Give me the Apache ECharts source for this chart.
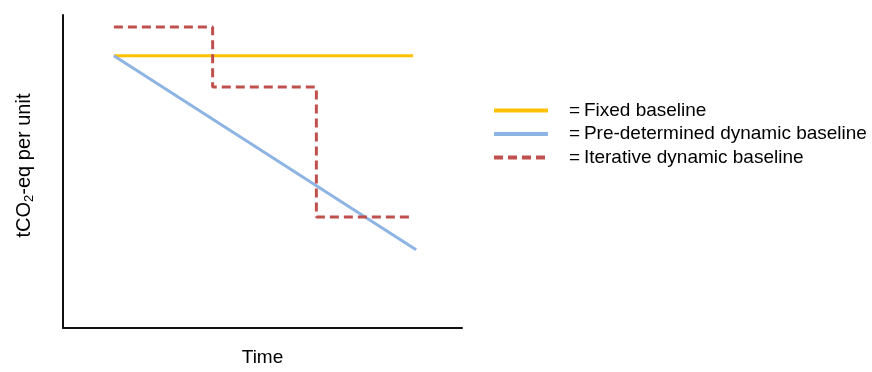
<!DOCTYPE html>
<html><head><meta charset="utf-8">
<script src="https://cdn.jsdelivr.net/npm/echarts@6/dist/echarts.min.js"></script>
<style>html,body{margin:0;padding:0;background:#fff}#c{width:872px;height:372px}</style>
</head><body><div id="c"></div>
<script>
const seriesNames = ['Fixed baseline', 'Pre-determined dynamic baseline', 'Iterative dynamic baseline'];
const fixedBaseline = [[0.51, 8.7], [3.51, 8.7]];
const predeterminedBaseline = [[0.51, 8.7], [3.54, 2.5]];
const iterativeBaseline = [[0.51, 9.62], [1.5, 9.62], [1.5, 7.7], [2.54, 7.7], [2.54, 3.55], [3.5, 3.55]];
const xName = 'Time';
const yName = 'tCO{sub|2}-eq per unit';

const chart = echarts.init(document.getElementById('c'));
const font = 'Liberation Sans, Arial, sans-serif';
chart.setOption({
  animation: false,
  backgroundColor: '#fff',
  textStyle: {fontFamily: font},
  grid: {left: 63, right: 410, top: 15, bottom: 34},
  xAxis: {
    type: 'value', min: 0, max: 4,
    name: xName, nameLocation: 'middle', nameGap: 20,
    nameTextStyle: {fontSize: 19, color: '#000', fontFamily: font},
    axisLine: {lineStyle: {color: '#111', width: 2}},
    axisTick: {show: false}, axisLabel: {show: false}, splitLine: {show: false}
  },
  yAxis: {
    type: 'value', min: 0, max: 10,
    name: yName, nameLocation: 'middle', nameGap: 27,
    nameTextStyle: {fontSize: 20, color: '#000', fontFamily: font, padding: [0, 0, 0, 12],
      rich: {sub: {fontSize: 13, verticalAlign: 'bottom', padding: [10, 0, 0, 0], fontFamily: font, color: '#000'}}},
    axisLine: {show: true, lineStyle: {color: '#111', width: 2}},
    axisTick: {show: false}, axisLabel: {show: false}, splitLine: {show: false}
  },
  legend: {
    orient: 'vertical', left: 487, top: 96,
    itemWidth: 54, itemHeight: 10, itemGap: 4.5,
    itemStyle: {opacity: 0, borderWidth: 0},
    lineStyle: {width: 4},
    formatter: n => '=\u2009' + n,
    textStyle: {fontSize: 19, color: '#000', fontFamily: font, padding: [0, 0, 0, 16]},
    data: seriesNames
  },
  series: [
    {name: seriesNames[0], type: 'line', data: fixedBaseline, symbol: 'none',
     lineStyle: {color: '#FFC000', width: 3}, itemStyle: {color: '#FFC000'}},
    {name: seriesNames[1], type: 'line', data: predeterminedBaseline, symbol: 'none',
     lineStyle: {color: '#8DB4E2', width: 3}, itemStyle: {color: '#8DB4E2'}},
    {name: seriesNames[2], type: 'line', data: iterativeBaseline, symbol: 'none',
     lineStyle: {color: '#C0504D', width: 3, type: [9, 5]}, itemStyle: {color: '#C0504D'}}
  ]
});
</script></body></html>
